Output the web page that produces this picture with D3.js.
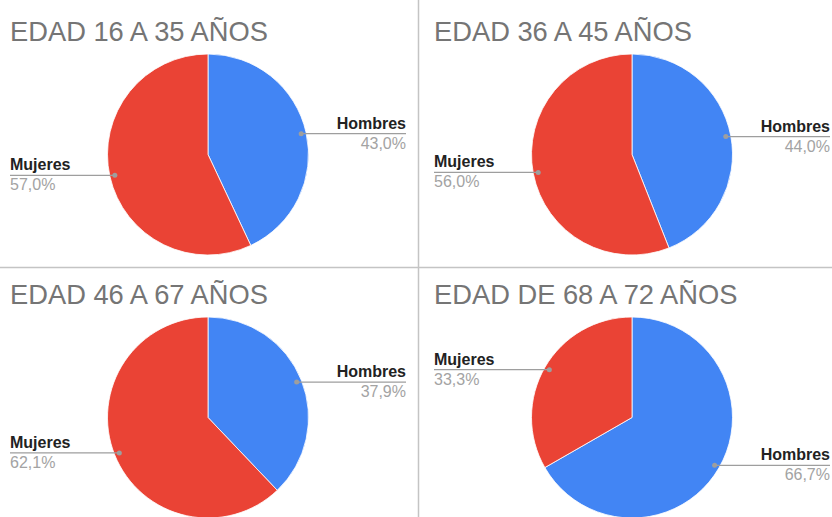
<!DOCTYPE html>
<html>
<head>
<meta charset="utf-8">
<script src="https://cdn.jsdelivr.net/npm/d3@7"></script>
<style>
  html, body { margin: 0; padding: 0; background: #fff; }
  svg { display: block; }
</style>
</head>
<body>
<svg id="chart" width="832" height="517"></svg>
<script>
// Datos por grupo de edad
const titles = ['EDAD 16 A 35 AÑOS', 'EDAD 36 A 45 AÑOS', 'EDAD 46 A 67 AÑOS', 'EDAD DE 68 A 72 AÑOS'];
const categories = ['Hombres', 'Mujeres'];
const hombres = [43.0, 44.0, 37.9, 66.7];
const mujeres = [57.0, 56.0, 62.1, 33.3];
const colors = ['#4285f4', '#ea4335'];

const svg = d3.select('#chart');
const W = 832, H = 517;
const panelW = 424, panelH = 263;
const R = 100.5;
const cx = 208, cy = 154.5;

const fmt = v => d3.format('.1f')(v).replace('.', ',') + '%';

const pie = d3.pie().sort(null).value(d => d.value);
const arc = d3.arc().innerRadius(0).outerRadius(R);

titles.forEach((title, i) => {
  const col = i % 2, row = Math.floor(i / 2);
  const g = svg.append('g')
    .attr('transform', `translate(${col * panelW},${row * panelH})`);

  g.append('text')
    .attr('x', 10).attr('y', 41)
    .attr('font-family', '"Liberation Sans", Arial, sans-serif')
    .attr('font-size', 27.3)
    .attr('fill', '#757575')
    .text(title);

  const data = categories.map((c, k) => ({ name: c, value: k === 0 ? hombres[i] : mujeres[i], color: colors[k] }));
  const arcs = pie(data);
  const total = d3.sum(data, d => d.value);

  const pg = g.append('g').attr('transform', `translate(${cx},${cy})`);
  pg.selectAll('path.slice')
    .data(arcs)
    .join('path')
    .attr('class', 'slice')
    .attr('d', arc)
    .attr('fill', d => d.data.color)
    .attr('stroke', '#fff')
    .attr('stroke-width', 0.8);

  // Leader lines + labels
  arcs.forEach(a => {
    const mid = (a.startAngle + a.endAngle) / 2;
    const px = cx + Math.sin(mid) * R * 0.95;
    const py = cy - Math.cos(mid) * R * 0.95;
    const right = mid < Math.PI;
    const xEnd = right ? 406 : 10;

    g.append('line')
      .attr('x1', px).attr('y1', py)
      .attr('x2', xEnd).attr('y2', py)
      .attr('stroke', '#9e9e9e')
      .attr('stroke-width', 1.2);
    g.append('circle')
      .attr('cx', px).attr('cy', py).attr('r', 2.5)
      .attr('fill', '#9e9e9e');

    g.append('text')
      .attr('x', xEnd).attr('y', py - 5)
      .attr('text-anchor', right ? 'end' : 'start')
      .attr('font-family', '"Liberation Sans", Arial, sans-serif')
      .attr('font-weight', 'bold')
      .attr('font-size', 16)
      .attr('fill', '#222')
      .text(a.data.name);
    g.append('text')
      .attr('x', xEnd).attr('y', py + 15)
      .attr('text-anchor', right ? 'end' : 'start')
      .attr('font-family', '"Liberation Sans", Arial, sans-serif')
      .attr('font-size', 16)
      .attr('fill', '#a3a3a3')
      .text(fmt(a.data.value / total * 100));
  });
});

// Separadores
svg.append('line')
  .attr('x1', 418.5).attr('y1', 0).attr('x2', 418.5).attr('y2', H)
  .attr('stroke', '#c4c4c4').attr('stroke-width', 1.5);
svg.append('line')
  .attr('x1', 0).attr('y1', 267.5).attr('x2', W).attr('y2', 267.5)
  .attr('stroke', '#c4c4c4').attr('stroke-width', 1.5);
</script>
</body>
</html>
